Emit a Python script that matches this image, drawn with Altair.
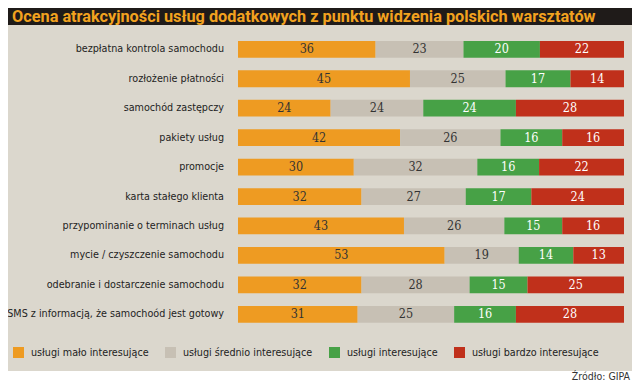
import altair as alt
import pandas as pd

items = [
    "bezpłatna kontrola samochodu",
    "rozłożenie płatności",
    "samochód zastępczy",
    "pakiety usług",
    "promocje",
    "karta stałego klienta",
    "przypominanie o terminach usług",
    "mycie / czyszczenie samochodu",
    "odebranie i dostarczenie samochodu",
    "SMS z informacją, że samochoód jest gotowy",
]
categories = [
    "usługi mało interesujące",
    "usługi średnio interesujące",
    "usługi interesujące",
    "usługi bardzo interesujące",
]
malo = [36, 45, 24, 42, 30, 32, 43, 53, 32, 31]
srednio = [23, 25, 24, 26, 32, 27, 26, 19, 28, 25]
interes = [20, 17, 24, 16, 16, 17, 15, 14, 15, 16]
bardzo = [22, 14, 28, 16, 22, 24, 16, 13, 25, 28]
colors = ["#ee9b22", "#c7c0b4", "#47a146", "#c0301b"]

title_text = "Ocena atrakcyjności usług dodatkowych z punktu widzenia polskich warsztatów"
source_text = "Źródło: GIPA"

rows = []
for series_idx, series in enumerate([malo, srednio, interes, bardzo]):
    for item, v in zip(items, series):
        rows.append({"item": item, "cat": categories[series_idx], "order": series_idx, "value": v})
df = pd.DataFrame(rows)

NARROW = "DejaVu Sans Condensed"

W, H = 624, 374
xscale = alt.Scale(domain=[0, 1], range=[230, 616])
yscale = alt.Scale(domain=items, range=[26.6, 321.0], paddingInner=0.43, paddingOuter=0.215)

base = alt.Chart(df)
single = alt.Chart(pd.DataFrame({"k": [0]}))

bg = single.mark_rect(color="#dbd7cd").encode(
    x=alt.value(0), x2=alt.value(W), y=alt.value(17), y2=alt.value(363)
)
band = single.mark_rect(color="#1f1b19").encode(
    x=alt.value(0), x2=alt.value(W), y=alt.value(0), y2=alt.value(17)
)
title = single.mark_text(
    text=title_text, align="left", baseline="alphabetic", font="Roboto",
    fontSize=16.3, fontWeight="bold", color="#f2a21f"
).encode(x=alt.value(4), y=alt.value(13.5))

source = single.mark_text(
    text=source_text, align="right", baseline="middle", font=NARROW,
    fontSize=10.5, color="#333333"
).encode(x=alt.value(622), y=alt.value(369))

bars = base.mark_bar(strokeWidth=0).encode(
    x=alt.X("value:Q", stack="normalize", scale=xscale, axis=None),
    y=alt.Y("item:N", scale=yscale, axis=None, sort=items),
    color=alt.Color(
        "cat:N",
        scale=alt.Scale(domain=categories, range=colors),
        legend=alt.Legend(
            title=None, orient="none", legendX=5, legendY=339, direction="horizontal",
            symbolType="square", symbolSize=121, symbolStrokeWidth=0, symbolOpacity=1,
            labelFont=NARROW, labelFontSize=10.7, labelColor="#222222",
            labelOffset=7, columnPadding=16, padding=0,
        ),
    ),
    order=alt.Order("order:Q"),
)

values = base.transform_joinaggregate(
    total="sum(value)", groupby=["item"]
).transform_window(
    cum="sum(value)", groupby=["item"], sort=[alt.SortField("order")]
).transform_calculate(
    mid="(datum.cum - datum.value / 2) / datum.total"
).mark_text(
    font="DejaVu Serif Condensed", fontSize=12.5, baseline="middle", align="center"
).encode(
    x=alt.X("mid:Q", scale=xscale, axis=None),
    y=alt.Y("item:N", scale=yscale, axis=None, sort=items),
    text="value:Q",
    color=alt.condition("datum.order >= 2", alt.value("#ffffff"), alt.value("#333333")),
)

labels = base.transform_filter("datum.order == 0").mark_text(
    align="right", baseline="middle", font=NARROW, fontSize=10.7, color="#1e1e1e"
).encode(
    x=alt.value(216),
    y=alt.Y("item:N", scale=yscale, axis=None, sort=items),
    text="item:N",
)

chart = alt.layer(bg, band, title, source, bars, values, labels).properties(
    width=W, height=H, autosize=alt.AutoSizeParams(type="none"), padding=0,
    background="white",
).configure_view(stroke=None)

chart.save("out.html", embed_options={"renderer": "svg", "actions": False})
